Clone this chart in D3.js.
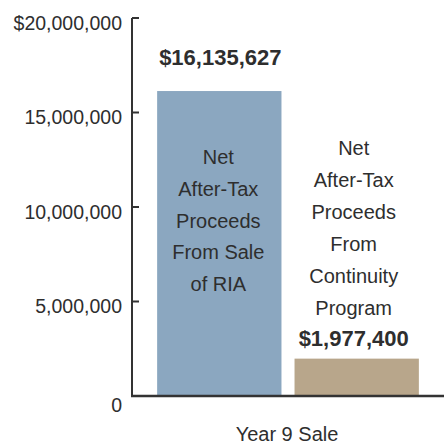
<!DOCTYPE html>
<html>
<head>
<meta charset="utf-8">
<script src="https://cdn.jsdelivr.net/npm/d3@7/dist/d3.min.js"></script>
<style>
  html, body { margin: 0; padding: 0; background: #fff; }
  svg { display: block; font-family: "Liberation Sans", Arial, sans-serif; }
</style>
</head>
<body>
<svg id="chart" width="446" height="445"></svg>
<script>
const categories = ["Sale of RIA", "Continuity Program"];
const values = [16135627, 1977400];
const valueLabels = ["$16,135,627", "$1,977,400"];
const barLabels = [
  ["Net", "After-Tax", "Proceeds", "From Sale", "of RIA"],
  ["Net", "After-Tax", "Proceeds", "From", "Continuity", "Program"]
];
const barColors = ["#8BA7C0", "#B8A68B"];
const tickValues = [0, 5000000, 10000000, 15000000, 20000000];
const tickLabels = ["0", "5,000,000", "10,000,000", "15,000,000", "$20,000,000"];
const xTitle = "Year 9 Sale";

const svg = d3.select("#chart");
const textColor = "#2e2e2e";
const axisColor = "#333";

const x = d3.scaleBand().domain(categories).range([132, 444])
  .paddingInner(0.095).paddingOuter(0.183);
const y = d3.scaleLinear().domain([0, 20000000]).range([396, 18]);

// bars
svg.selectAll("rect.bar").data(categories).join("rect")
  .attr("class", "bar")
  .attr("x", d => x(d))
  .attr("width", x.bandwidth())
  .attr("y", (d, i) => y(values[i]))
  .attr("height", (d, i) => y(0) - y(values[i]))
  .attr("fill", (d, i) => barColors[i]);

// y axis
const yAxis = d3.axisLeft(y)
  .tickValues(tickValues)
  .tickFormat((d, i) => tickLabels[i])
  .tickSize(-7)
  .tickSizeOuter(0)
  .tickPadding(10)
  .offset(0);

const gy = svg.append("g").attr("transform", "translate(132,0)").call(yAxis);
gy.select(".domain").attr("stroke", axisColor).attr("stroke-width", 2);
gy.selectAll(".tick line").attr("stroke", axisColor).attr("stroke-width", 2);
gy.selectAll(".tick text")
  .attr("fill", textColor)
  .attr("font-size", "19.5px")
  .attr("font-family", "'Liberation Sans', Arial, sans-serif")
  .attr("dy", null)
  .attr("dominant-baseline", "central")
  .attr("y", d => d === 0 ? 9 : 4.5);

// baseline
svg.append("line")
  .attr("x1", 131).attr("x2", 444)
  .attr("y1", y(0)).attr("y2", y(0))
  .attr("stroke", axisColor).attr("stroke-width", 2.5);

// value labels
svg.selectAll("text.val").data(categories).join("text")
  .attr("class", "val")
  .attr("x", (d, i) => x(d) + x.bandwidth() / 2 + (i === 0 ? 1 : -3))
  .attr("y", (d, i) => i === 0 ? y(values[i]) - 26 : y(values[i]) - 12.5)
  .attr("text-anchor", "middle")
  .attr("font-size", "22px")
  .attr("font-weight", "bold")
  .attr("fill", textColor)
  .text((d, i) => valueLabels[i]);

// category description labels
// bar 1: inside bar
const g1 = svg.append("g");
g1.selectAll("text").data(barLabels[0]).join("text")
  .attr("x", x(categories[0]) + x.bandwidth() / 2 - 1)
  .attr("y", (d, j) => y(values[0]) + 73 + j * 31.8)
  .attr("text-anchor", "middle")
  .attr("font-size", "20px")
  .attr("fill", textColor)
  .text(d => d);

// bar 2: above bar
const g2 = svg.append("g");
const n2 = barLabels[1].length;
g2.selectAll("text").data(barLabels[1]).join("text")
  .attr("x", x(categories[1]) + x.bandwidth() / 2 - 3)
  .attr("y", (d, j) => y(values[1]) - 44 - (n2 - 1 - j) * 32)
  .attr("text-anchor", "middle")
  .attr("font-size", "20px")
  .attr("fill", textColor)
  .text(d => d);

// x title
svg.append("text")
  .attr("x", (132 + 444) / 2 - 1)
  .attr("y", 441)
  .attr("text-anchor", "middle")
  .attr("font-size", "20px")
  .attr("fill", textColor)
  .text(xTitle);
</script>
</body>
</html>
